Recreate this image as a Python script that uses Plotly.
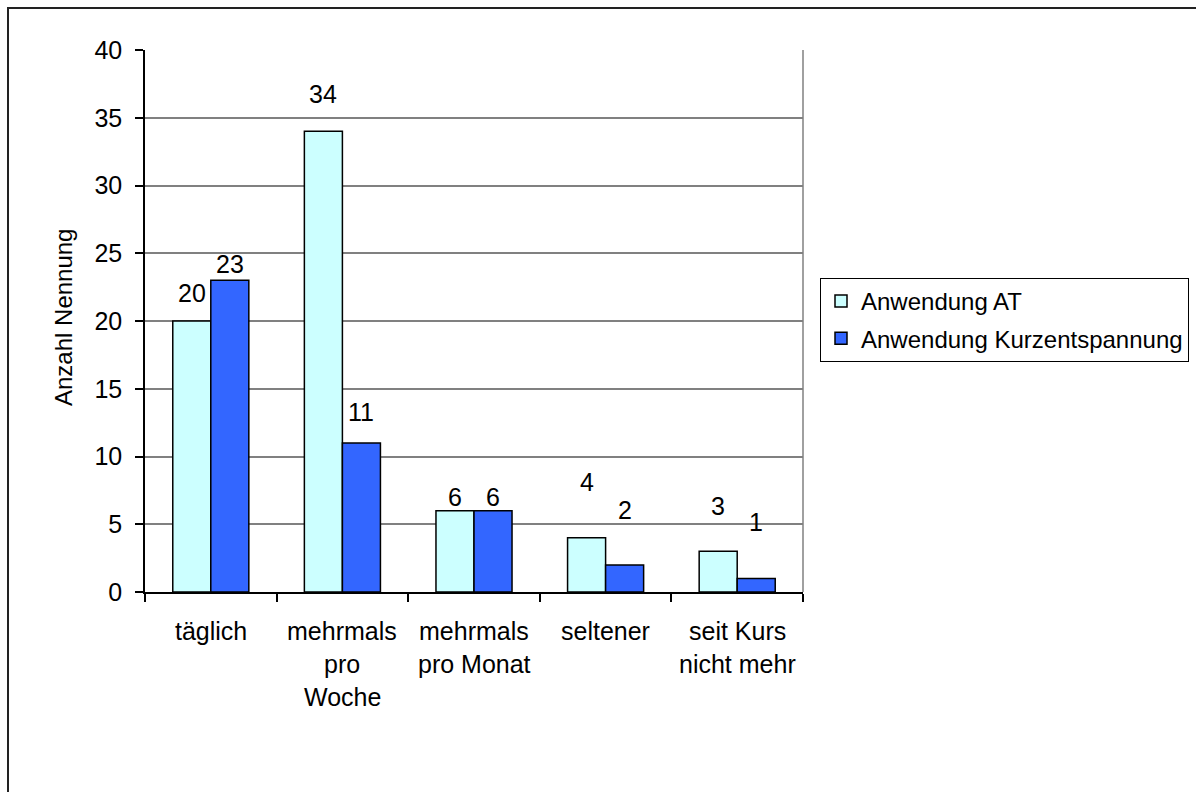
import plotly.graph_objects as go

# Survey: how often the relaxation techniques are used after the course
categories = ["täglich", "mehrmals\npro\nWoche", "mehrmals\npro Monat", "seltener", "seit Kurs\nnicht mehr"]
series_names = ["Anwendung AT", "Anwendung Kurzentspannung"]
anwendung_at = [20, 34, 6, 4, 3]
anwendung_kurz = [23, 11, 6, 2, 1]
y_ticks = [0, 5, 10, 15, 20, 25, 30, 35, 40]

# vertical lift (px) of each value label above its bar
lift_at = [28, 37, 14, 56, 45]
lift_kurz = [16, 31, 14, 55, 56]

W, H = 1196, 792
L, R, T, B = 145, 803, 50, 592  # plot area in pixels
PW, PH = R - L, B - T

FONT = "Liberation Sans, Arial, sans-serif"
FS = 25


def px_x(px):
    return (px - L) / PW


def px_y(py):
    return (B - py) / PH


x_idx = list(range(len(categories)))

fig = go.Figure()
fig.add_trace(go.Bar(
    x=x_idx, y=anwendung_at, name=series_names[0], legendgroup="a",
    offsetgroup="a",
    marker=dict(color="#CCFFFF", line=dict(color="#000000", width=1.5)),
))
fig.add_trace(go.Bar(
    x=x_idx, y=anwendung_kurz, name=series_names[1], legendgroup="b",
    offsetgroup="b",
    marker=dict(color="#3366FF", line=dict(color="#000000", width=1.5)),
))

annotations = []

# value labels above the bars
bar_w = (1 - 0.422) / 2
for vals, lifts, side in ((anwendung_at, lift_at, -1), (anwendung_kurz, lift_kurz, 1)):
    for i, (v, lift) in enumerate(zip(vals, lifts)):
        annotations.append(dict(
            x=i + side * bar_w / 2, xref="x", y=v, yref="y", yshift=lift,
            text=str(v), showarrow=False, xanchor="center", yanchor="middle",
            font=dict(family=FONT, size=FS, color="#000000"),
        ))

# category labels, one annotation per line
for i, cat in enumerate(categories):
    for j, line in enumerate(cat.split("\n")):
        annotations.append(dict(
            x=i, xref="x", y=px_y(631 + 33 * j), yref="paper",
            text=line, showarrow=False, xanchor="center", yanchor="middle",
            font=dict(family=FONT, size=FS, color="#000000"),
        ))

# y-axis title
annotations.append(dict(
    x=px_x(63), xref="paper", y=px_y(318), yref="paper",
    text="Anzahl Nennung", textangle=-90, showarrow=False,
    xanchor="center", yanchor="middle",
    font=dict(family=FONT, size=24, color="#000000"),
))

shapes = [
    # outer chart frame (right and bottom edges run off the page)
    dict(type="rect", xref="paper", yref="paper",
         x0=px_x(8), x1=px_x(1215), y0=px_y(8), y1=px_y(815),
         line=dict(color="#222222", width=2), fillcolor="rgba(0,0,0,0)", layer="below"),
    # right edge of the plot area
    dict(type="line", xref="paper", yref="paper", x0=1, x1=1, y0=0, y1=1,
         line=dict(color="#808080", width=1.5)),
]

fig.update_layout(
    width=W, height=H,
    margin=dict(l=L, r=W - R, t=T, b=H - B, pad=0, autoexpand=False),
    paper_bgcolor="#FFFFFF", plot_bgcolor="#FFFFFF",
    barmode="group", bargap=0.422, bargroupgap=0,
    font=dict(family=FONT, size=FS, color="#000000"),
    showlegend=True,
    legend=dict(
        xref="container", yref="container",
        x=820 / W, xanchor="left", y=1 - 278 / H, yanchor="top",
        bordercolor="#000000", borderwidth=1, bgcolor="#FFFFFF",
        font=dict(family=FONT, size=24, color="#000000"),
        traceorder="grouped", tracegroupgap=3, itemwidth=30,
    ),
    xaxis=dict(
        range=[-0.5, len(categories) - 0.5], showgrid=False, zeroline=False,
        showline=True, linecolor="#000000", linewidth=1.5,
        tickvals=[i - 0.5 for i in range(len(categories) + 1)],
        ticks="outside", ticklen=8, tickcolor="#000000", tickwidth=1.5,
        showticklabels=False,
    ),
    yaxis=dict(
        range=[0, 40], tickvals=y_ticks, ticktext=[str(v) for v in y_ticks],
        showgrid=True, gridcolor="#808080", gridwidth=1.5, zeroline=False,
        showline=True, linecolor="#000000", linewidth=1.5,
        ticks="outside", ticklen=8, tickcolor="#000000", tickwidth=1.5,
        ticklabelstandoff=8,
        tickfont=dict(family=FONT, size=FS, color="#000000"),
    ),
    annotations=annotations,
    shapes=shapes,
)

fig.write_html("out.html")
